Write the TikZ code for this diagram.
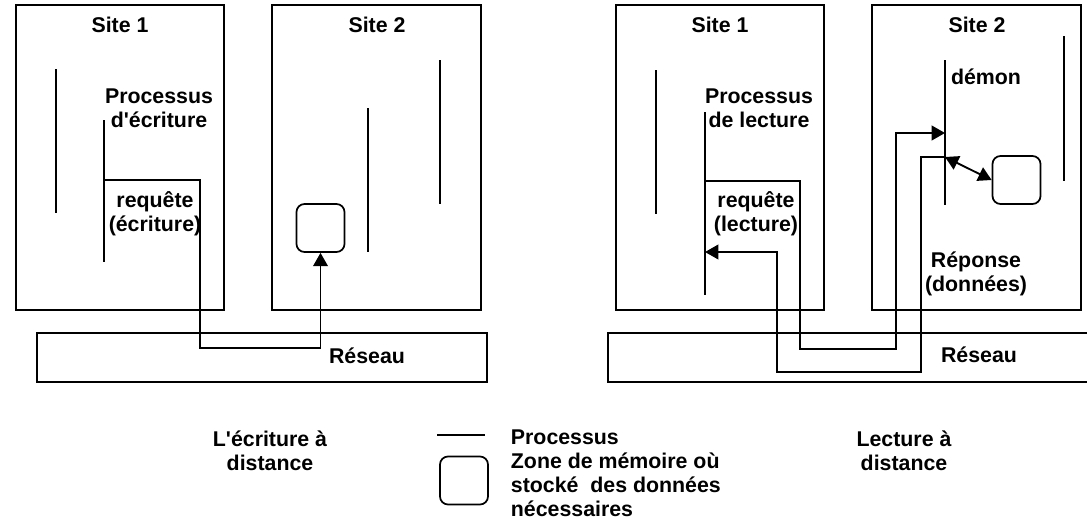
\documentclass[tikz,border=0pt]{standalone}
\usepackage{fontspec}
\setmainfont{Liberation Sans}
\usetikzlibrary {arrows.meta, positioning, calc}
\tikzset{
  >={Triangle[length=10pt, width=11pt]},
  site/.style={line width=1.3pt},
  proc/.style={line width=1.5pt},
  zone/.style={draw, line width=1.3pt, rounded corners=6pt,
    minimum width=36pt, minimum height=36pt, inner sep=0pt},
  lbl/.style={font=\fontsize{16}{18}\selectfont\bfseries, align=center, inner sep=0pt}
}
\begin{document}
\begin{tikzpicture}[x=0.75pt, y=-0.75pt, line width=1.4pt]
    \useasboundingbox (0, 0) rectangle (1087, 521);
    % ecriture a distance
    % site 1
    \begin{scope}
        \draw[site] (16, 5) rectangle (224, 310);
        \node[lbl] (s1a) at (120, 25) {Site 1};
        \draw[proc] (56, 69) -- (56, 213);
        \draw[proc] (104, 120) -- (104, 262);
        \coordinate (ecrOut) at (104, 180);
        \node[lbl] (pecr) at (159, 108) {Processus\\d\textquotesingle écriture};
        \node[lbl] (recr) at (155, 214) {requête\\(écriture)};
    \end{scope}
    % site 2
    \begin{scope}
        \draw[site] (272, 5) rectangle (481, 310);
        \node[lbl] (s2a) at (377, 25) {Site 2};
        \draw[proc] (368, 108) -- (368, 252);
        \draw[proc] (440, 60) -- (440, 204);
        \node[zone] (zoneA) at (320.5, 228) {};
    \end{scope}
    % reseau
    \draw[site] (37, 333) rectangle (487, 382);
    \node[lbl] (resA) at (367, 356) {Réseau};
    \draw[->] (ecrOut) -- (200, 180) -- (200, 348) -| (zoneA.south);

    % lecture a distance
    % site 1
    \begin{scope}
        \draw[site] (616, 5) rectangle (824, 310);
        \node[lbl] (s1b) at (720, 25) {Site 1};
        \draw[proc] (656, 70) -- (656, 214);
        \draw[proc] (705, 112) -- (705, 295);
        \coordinate (lecOut) at (705, 181);
        \coordinate (lecIn) at (705, 252);
        \node[lbl] (plec) at (759, 108) {Processus\\de lecture};
        \node[lbl] (rlec) at (756, 214) {requête\\(lecture)};
    \end{scope}
    % site 2
    \begin{scope}
        \draw[site] (872, 5) rectangle (1081, 310);
        \node[lbl] (s2b) at (977, 25) {Site 2};
        \draw[proc] (945, 60) -- (945, 205);
        \draw[proc] (1064, 36) -- (1064, 181);
        \coordinate (demIn) at (945, 133);
        \coordinate (demOut) at (945, 157);
        \node[lbl] (demon) at (986, 77) {démon};
        \node[zone] (zoneB) at (1016.5, 180) {};
        \node[lbl] (rep) at (976, 274) {Réponse\\(données)};
    \end{scope}
    % reseau
    \draw[site] (608, 333) rectangle (1092, 382);
    \node[lbl] (resB) at (979, 355) {Réseau};
    \draw[->] (lecOut) -- (800, 181) -- (800, 349) -- (896, 349) |- (demIn);
    \draw[->] (demOut) -- (921, 157) -- (921, 372) -- (777, 372) |- (lecIn);
    \draw[<->] (demOut) -- (zoneB.west);

    % legende
    \node[lbl] (tEcr) at (270, 451) {L\textquotesingle écriture à\\distance};
    \node[lbl] (tLec) at (904, 451) {Lecture à\\distance};
    \draw[proc] (437, 435) -- (485, 435);
    \node[zone] (zoneL) at (464, 480.5) {};
    \node[lbl, align=left, anchor=west] (leg) at (510, 473)
        {Processus\\Zone de mémoire où\\stocké~ des données\\nécessaires};
\end{tikzpicture}
\end{document}
